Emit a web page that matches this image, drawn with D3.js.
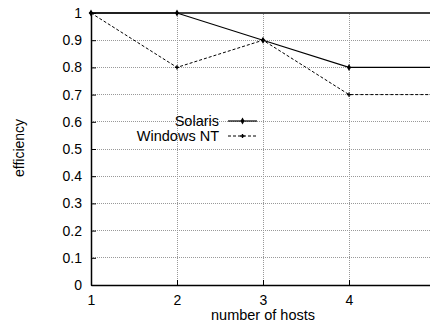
<!DOCTYPE html>
<html><head><meta charset="utf-8">
<script src="https://cdn.jsdelivr.net/npm/d3@7"></script>
<style>body{margin:0;background:#fff}svg{display:block}text{font-family:"Liberation Sans",Arial,sans-serif;font-size:14px;fill:#000}</style>
</head><body>
<script>
const hosts = [1, 2, 3, 4, 5];
const solaris = [1, 1, 0.9, 0.8, 0.8];
const windowsNT = [1, 0.8, 0.9, 0.7, 0.7];
const yTicks = [0, 0.1, 0.2, 0.3, 0.4, 0.5, 0.6, 0.7, 0.8, 0.9, 1];
const xTicks = [1, 2, 3, 4, 5];
const seriesNames = ["Solaris", "Windows NT"];

const W = 430, H = 327;
const svg = d3.select("body").append("svg").attr("width", W).attr("height", H);
const x = d3.scaleLinear().domain([1, 5]).range([91, 435]);
const y = d3.scaleLinear().domain([0, 1]).range([285, 13]);

// grid
svg.append("g").selectAll("line").data(yTicks.slice(1, -1)).join("line")
  .attr("x1", x(1)).attr("x2", x(5)).attr("y1", d => y(d)).attr("y2", d => y(d))
  .attr("stroke", "#999").attr("stroke-width", 1).attr("stroke-dasharray", "1,1").attr("shape-rendering", "crispEdges");
svg.append("g").selectAll("line").data(xTicks.slice(1, -1)).join("line")
  .attr("x1", d => x(d)).attr("x2", d => x(d)).attr("y1", y(0)).attr("y2", y(1))
  .attr("stroke", "#999").attr("stroke-width", 1).attr("stroke-dasharray", "1,1").attr("shape-rendering", "crispEdges");

// axes
const yAxis = d3.axisLeft(y).tickValues(yTicks).tickFormat(d3.format("")).tickSizeInner(-5).tickSizeOuter(0).tickPadding(9);
const gy = svg.append("g").attr("transform", `translate(${x(1)},0)`).call(yAxis);
const xAxis = d3.axisBottom(x).tickValues(xTicks).tickFormat(d3.format("d")).tickSizeInner(-5).tickSizeOuter(0).tickPadding(10);
const gx = svg.append("g").attr("transform", `translate(0,${y(0)})`).call(xAxis);
[gx, gy].forEach(g => {
  g.select(".domain").attr("stroke", "#000").attr("stroke-width", 1.5);
  g.selectAll(".tick line").attr("stroke", "#000");
  g.selectAll("text").style("font-size", "14px").attr("fill", "#000");
});
// top border
svg.append("line").attr("x1", x(1)).attr("x2", x(5)).attr("y1", y(1)).attr("y2", y(1)).attr("stroke", "#000").attr("stroke-width", 1.5);

// lines
const line = d3.line().x((d, i) => x(hosts[i])).y(d => y(d));
const styles = [{dash: null, w: 1.2}, {dash: "3,2", w: 1}];
[solaris, windowsNT].forEach((s, k) => {
  svg.append("path").datum(s).attr("d", line).attr("fill", "none").attr("stroke", "#000")
    .attr("stroke-width", styles[k].w).attr("stroke-dasharray", styles[k].dash);
  svg.append("g").selectAll("path").data(s).join("path")
    .attr("transform", (d, i) => `translate(${x(hosts[i])},${y(d)})`)
    .attr("d", d3.symbol().type(k === 0 ? d3.symbolDiamond : d3.symbolCross).size(k === 0 ? 14 : 10))
    .attr("fill", "#000");
});

// legend
const lg = svg.append("g");
seriesNames.forEach((n, k) => {
  const ly = 121 + k * 15;
  lg.append("text").attr("x", 219).attr("y", ly).attr("dy", "0.35em").attr("text-anchor", "end").style("font-size", "14.5px").text(n);
  lg.append("line").attr("x1", 228).attr("x2", 257).attr("y1", ly).attr("y2", ly).attr("stroke", "#000")
    .attr("stroke-width", styles[k].w).attr("stroke-dasharray", styles[k].dash);
  lg.append("path").attr("transform", `translate(242.5,${ly})`)
    .attr("d", d3.symbol().type(k === 0 ? d3.symbolDiamond : d3.symbolCross).size(k === 0 ? 14 : 10)).attr("fill", "#000");
});

// axis titles
svg.append("text").attr("x", x(3)).attr("y", 320).attr("text-anchor", "middle").style("font-size", "14.5px").text("number of hosts");
svg.append("text").attr("transform", `translate(24,148) rotate(-90)`).attr("text-anchor", "middle").style("font-size", "14px").text("efficiency");
</script>
</body></html>
